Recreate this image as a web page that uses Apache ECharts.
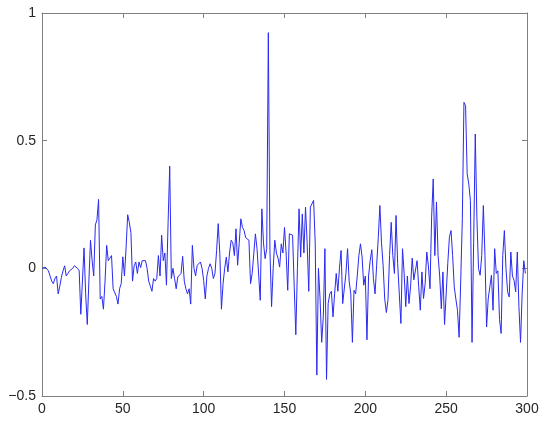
<!DOCTYPE html>
<html>
<head>
<meta charset="utf-8">
<script src="https://cdn.jsdelivr.net/npm/echarts@6/dist/echarts.min.js"></script>
<style>
  html, body { margin: 0; padding: 0; background: #fff; }
  #main { width: 550px; height: 428px; }
</style>
</head>
<body>
<div id="main"></div>
<script>
// tick positions
const xTicks = [0, 50, 100, 150, 200, 250, 300];
const yTicks = [-0.5, 0, 0.5, 1];

// signal, one value per sample (x = 0, 1, 2, ...)
const signal = [
  0.00, 0.00, 0.005, 0.00, -0.01, -0.03, -0.05, -0.06, -0.04, -0.03,
  -0.10, -0.07, -0.035, -0.01, 0.01, -0.03, -0.02, -0.01, -0.005, 0.00,
  0.01, 0.005, 0.00, -0.01, -0.18, -0.05, 0.08, -0.10, -0.22, -0.05,
  0.11, 0.03, -0.03, 0.17, 0.19, 0.27, -0.12, -0.11, -0.16, -0.05,
  0.09, 0.03, 0.04, 0.05, -0.08, -0.085, -0.11, -0.14, -0.08, -0.06,
  0.045, -0.03, 0.08, 0.21, 0.18, 0.14, -0.05, 0.01, 0.025, -0.02,
  0.025, 0.003, 0.03, 0.035, 0.03, 0.00, -0.05, -0.07, -0.09, -0.04,
  -0.05, -0.04, 0.05, -0.03, 0.13, 0.03, 0.06, -0.066, 0.18, 0.40,
  -0.04, 0.00, -0.04, -0.08, -0.034, -0.03, -0.02, 0.047, -0.05, -0.08,
  -0.10, -0.08, -0.14, 0.09, 0.00, -0.03, 0.012, 0.012, 0.025, 0.00,
  -0.047, -0.12, -0.03, 0.00, 0.018, 0.00, -0.04, -0.02, 0.07, 0.175,
  0.057, -0.16, -0.06, 0.00, 0.044, -0.014, 0.06, 0.11, 0.10, 0.05,
  0.155, 0.012, 0.10, 0.194, 0.16, 0.148, 0.12, 0.12, 0.11, -0.06,
  -0.02, 0.057, 0.135, 0.077, 0.07, -0.125, 0.233, 0.10, 0.038, 0.077,
  0.923, 0.07, -0.15, 0.00, 0.11, 0.06, 0.04, 0.005, 0.096, 0.06,
  0.16, 0.06, -0.086, 0.135, 0.13, 0.13, -0.07, -0.26, 0.00, 0.233,
  0.044, 0.213, 0.06, 0.24, 0.10, -0.09, 0.24, 0.233, 0.266, 0.10,
  -0.418, 0.00, -0.12, -0.29, -0.19, 0.077, -0.435, -0.138, -0.10, -0.09,
  -0.19, -0.10, -0.02, -0.09, 0.00, 0.07, -0.138, -0.138, -0.02, 0.077,
  -0.05, -0.10, -0.29, -0.086, -0.10, -0.03, 0.05, 0.096, 0.044, -0.066,
  -0.03, -0.28, -0.03, 0.03, 0.073, -0.04, -0.10, 0.012, 0.12, 0.246,
  0.10, 0.012, -0.12, -0.173, -0.125, 0.05, 0.18, 0.05, -0.02, 0.207,
  0.018, -0.10, -0.216, 0.077, -0.02, -0.15, -0.03, -0.138, -0.07, 0.04,
  -0.045, -0.05, 0.03, -0.07, -0.164, -0.014, -0.118, -0.06, 0.064, 0.01,
  -0.08, 0.20, 0.35, 0.05, 0.26, 0.05, -0.03, -0.158, -0.014, -0.22,
  -0.10, 0.02, 0.122, 0.148, 0.05, -0.073, -0.12, -0.164, -0.27, -0.05,
  0.194, 0.65, 0.637, 0.37, 0.33, 0.265, -0.29, 0.10, 0.526, 0.20,
  0.00, -0.027, 0.05, 0.246, 0.05, -0.23, -0.12, -0.073, -0.027, -0.164,
  0.077, -0.02, -0.01, -0.2, -0.255, 0.05, 0.148, 0.00, -0.092, -0.112,
  0.064, -0.03, -0.047, -0.092, 0.064, -0.15, -0.29, -0.10, 0.03, -0.02
];

const chartDom = document.getElementById('main');
const myChart = echarts.init(chartDom, null, { renderer: 'canvas' });

const frameColor = '#808080';
const labelStyle = { color: '#262626', fontSize: 14, fontFamily: "'Liberation Sans', Arial, sans-serif" };

const fmt = v => (v < 0 ? '\u2212' + String(-v) : String(v));

const option = {
  backgroundColor: '#fff',
  animation: false,
  grid: { left: 42, right: 23, top: 13, bottom: 32, containLabel: false },
  xAxis: [
    {
      type: 'value', min: xTicks[0], max: xTicks[xTicks.length - 1], interval: 50,
      position: 'bottom',
      axisLine: { show: true, onZero: false, lineStyle: { color: frameColor, width: 1 } },
      axisTick: { show: true, inside: true, length: 5, lineStyle: { color: frameColor } },
      axisLabel: Object.assign({ margin: 6, formatter: fmt }, labelStyle),
      splitLine: { show: false }
    },
    {
      type: 'value', min: xTicks[0], max: xTicks[xTicks.length - 1], interval: 50,
      position: 'top',
      axisLine: { show: true, onZero: false, lineStyle: { color: frameColor, width: 1 } },
      axisTick: { show: true, inside: true, length: 5, lineStyle: { color: frameColor } },
      axisLabel: { show: false },
      splitLine: { show: false }
    }
  ],
  yAxis: [
    {
      type: 'value', min: yTicks[0], max: yTicks[yTicks.length - 1], interval: 0.5,
      position: 'left',
      axisLine: { show: true, onZero: false, lineStyle: { color: frameColor, width: 1 } },
      axisTick: { show: true, inside: true, length: 5, lineStyle: { color: frameColor } },
      axisLabel: Object.assign({ margin: 6, formatter: fmt }, labelStyle),
      splitLine: { show: false }
    },
    {
      type: 'value', min: yTicks[0], max: yTicks[yTicks.length - 1], interval: 0.5,
      position: 'right',
      axisLine: { show: true, onZero: false, lineStyle: { color: frameColor, width: 1 } },
      axisTick: { show: true, inside: true, length: 5, lineStyle: { color: frameColor } },
      axisLabel: { show: false },
      splitLine: { show: false }
    }
  ],
  series: [{
    type: 'line',
    xAxisIndex: 0,
    yAxisIndex: 0,
    data: signal.map((v, i) => [i, v]),
    showSymbol: false,
    symbol: 'none',
    lineStyle: { color: '#2a2af0', width: 1 },
    silent: true
  }]
};

myChart.setOption(option);
</script>
</body>
</html>
